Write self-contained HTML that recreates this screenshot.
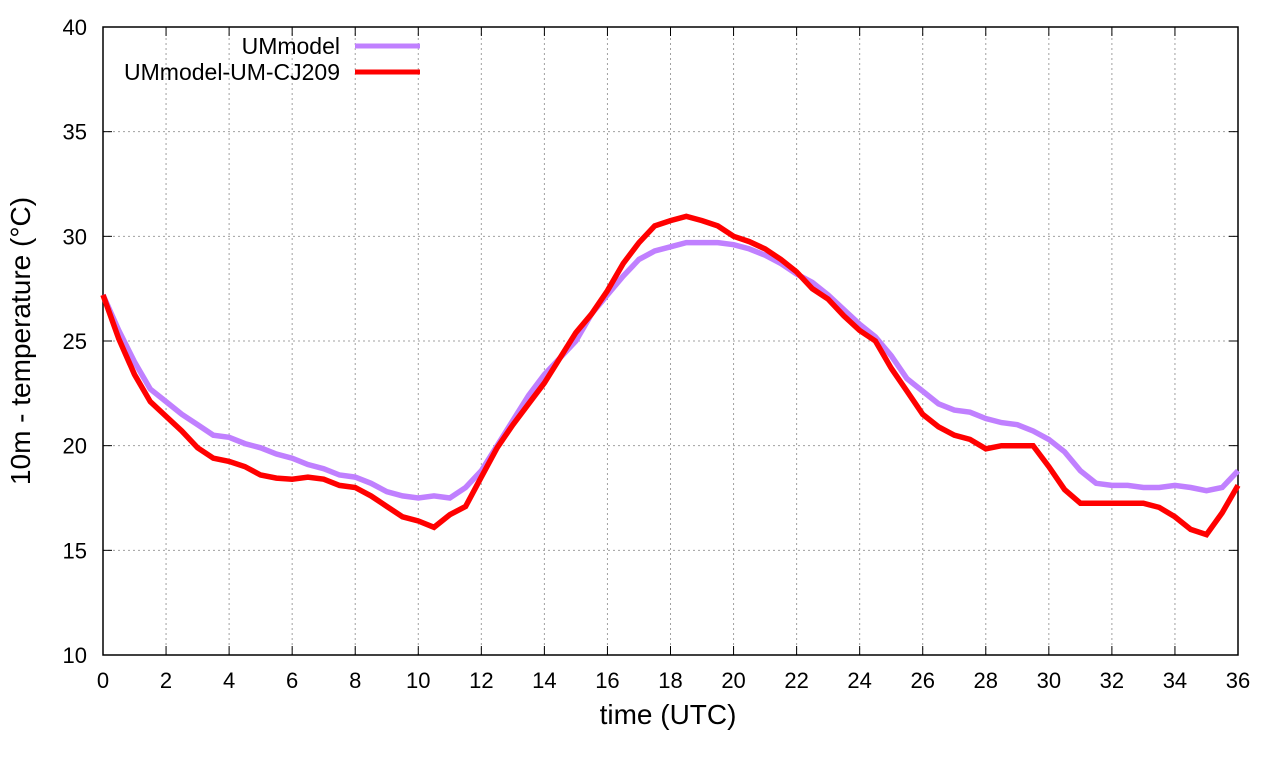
<!DOCTYPE html>
<html><head><meta charset="utf-8"><style>
body{margin:0;background:#fff}
svg text{font-family:"Liberation Sans",sans-serif;fill:#000}
</style></head><body>
<svg id="chart" width="1280" height="760" xmlns="http://www.w3.org/2000/svg">
<g id="grid"></g>
<g id="axes"></g>
<g id="series"></g>
<text x="668" y="724" font-size="28" text-anchor="middle">time (UTC)</text>
<text transform="translate(30,341) rotate(-90)" font-size="28" text-anchor="middle">10m - temperature (°C)</text>
<g>
<text x="340" y="54" font-size="23" text-anchor="end">UMmodel</text>
<line x1="355" y1="46" x2="420" y2="46" stroke="#c080ff" stroke-width="5"/>
<text x="340" y="80" font-size="23" text-anchor="end">UMmodel-UM-CJ209</text>
<line x1="355" y1="72" x2="420" y2="72" stroke="#ff0000" stroke-width="5"/>
</g>
</svg>
<script>
const xTicks=[0,2,4,6,8,10,12,14,16,18,20,22,24,26,28,30,32,34,36];
const yTicks=[10,15,20,25,30,35,40];
const hours=[];for(let i=0;i<=72;i++)hours.push(i/2);
const umModel=[27.2,25.5,24,22.7,22.1,21.5,21,20.5,20.4,20.1,19.9,19.6,19.4,19.1,18.9,18.6,18.5,18.2,17.8,17.6,17.5,17.6,17.5,18,18.8,20,21.2,22.4,23.4,24.2,25,26.3,27.2,28.1,28.9,29.3,29.5,29.7,29.7,29.7,29.6,29.4,29.1,28.7,28.2,27.8,27.2,26.5,25.8,25.2,24.3,23.2,22.6,22,21.7,21.6,21.3,21.1,21,20.7,20.3,19.7,18.8,18.2,18.1,18.1,18,18,18.1,18,17.85,18,18.8];
const umCJ209=[27.2,25.1,23.4,22.1,21.4,20.7,19.9,19.4,19.25,19,18.6,18.45,18.4,18.5,18.4,18.1,18,17.6,17.1,16.6,16.4,16.1,16.7,17.1,18.5,19.9,21,22,23,24.2,25.4,26.3,27.4,28.7,29.7,30.5,30.75,30.95,30.75,30.5,30,29.75,29.4,28.9,28.3,27.5,27,26.2,25.5,25,23.7,22.6,21.5,20.9,20.5,20.3,19.85,20,20,20,19,17.9,17.25,17.25,17.25,17.25,17.25,17.05,16.6,16,15.75,16.8,18.1];
const X0=103,X1=1238,Y0=655,Y1=27;
const sx=v=>X0+(v-0)/(36-0)*(X1-X0);
const sy=v=>Y0-(v-10)/(40-10)*(Y0-Y1);
const NS="http://www.w3.org/2000/svg";
function mk(tag,attrs,parent){const e=document.createElementNS(NS,tag);for(const k in attrs)e.setAttribute(k,attrs[k]);parent.appendChild(e);return e;}
const grid=document.getElementById('grid'),axes=document.getElementById('axes'),series=document.getElementById('series');
xTicks.forEach(t=>{
 const x=sx(t);
 if(t>0&&t<36){const g=mk('line',{x1:x,y1:Y0,x2:x,y2:Y1,stroke:'#a0a0a0','stroke-width':1,'stroke-dasharray':'2,3'},grid);
 
 }
 const tk=mk('line',{x1:x,y1:Y0,x2:x,y2:Y0-9,stroke:'#000','stroke-width':1},axes);
 
 
 const tk2=mk('line',{x1:x,y1:Y1,x2:x,y2:Y1+9,stroke:'#000','stroke-width':1},axes);
 
 
 const tx=mk('text',{x:x,y:688,'font-size':22,'text-anchor':'middle'},axes);tx.textContent=t;
 
 
});
yTicks.forEach(t=>{
 const y=sy(t);
 if(t>10&&t<40){const g=mk('line',{x1:X0,y1:y,x2:X1,y2:y,stroke:'#a0a0a0','stroke-width':1,'stroke-dasharray':'2,3'},grid);
 
 }
 const tk=mk('line',{x1:X0,y1:y,x2:X0+9,y2:y,stroke:'#000','stroke-width':1},axes);
 
 
 const tk2=mk('line',{x1:X1,y1:y,x2:X1-9,y2:y,stroke:'#000','stroke-width':1},axes);
 
 
 const tx=mk('text',{x:87,y:y+8,'font-size':22,'text-anchor':'end'},axes);tx.textContent=t;
 
 
});
const fr=mk('rect',{x:X0,y:Y1,width:X1-X0,height:Y0-Y1,fill:'none',stroke:'#000','stroke-width':1.5},axes);


function line(vals,color,name){
 const d=vals.map((v,i)=>(i?'L':'M')+sx(hours[i]).toFixed(1)+','+sy(v).toFixed(1)).join(' ');
 const p=mk('path',{d:d,fill:'none',stroke:color,'stroke-width':5.5,'stroke-linejoin':'miter'},series);
 
 
}
line(umModel,'#c080ff','line-ummodel');
line(umCJ209,'#ff0000','line-ummodel-um-cj209');
</script>
</body></html>
